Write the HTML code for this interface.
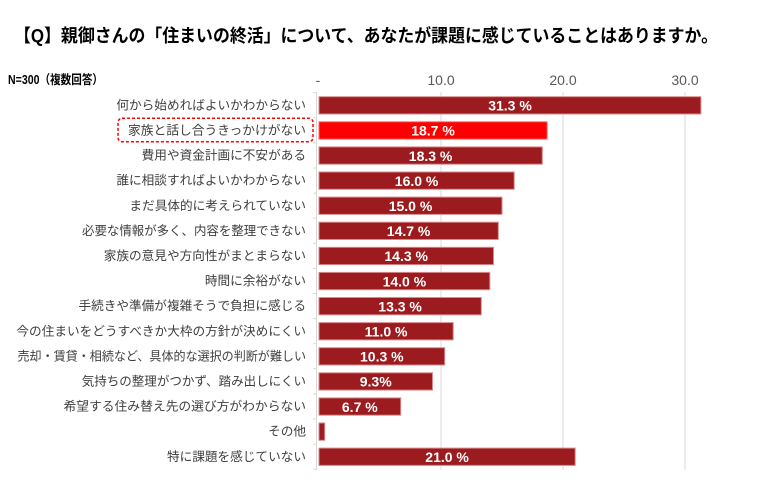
<!DOCTYPE html>
<html><head><meta charset="utf-8"><style>
html,body{margin:0;padding:0;background:#fff;}
svg{display:block;}
text{font-family:"Liberation Sans","Noto Sans CJK JP",sans-serif;}
.cat{font-size:12.65px;fill:#3f3f3f;}
.val{font-size:14px;fill:#fff;font-weight:bold;}
.ax{font-size:14px;fill:#595959;}
</style></head><body>
<svg width="771" height="488" viewBox="0 0 771 488" xmlns="http://www.w3.org/2000/svg">
<rect width="771" height="488" fill="#fff"/>
<text x="14" y="42" font-size="18" font-weight="bold" fill="#000" textLength="704" lengthAdjust="spacingAndGlyphs">【Q】親御さんの「住まいの終活」について、あなたが課題に感じていることはありますか。</text>
<text x="8" y="84" font-size="12.5" font-weight="bold" fill="#000" textLength="95" lengthAdjust="spacingAndGlyphs">N=300（複数回答）</text>
<g class="ax" text-anchor="middle">
<text x="318" y="85">-</text>
<text x="441" y="85">10.0</text>
<text x="563" y="85">20.0</text>
<text x="685" y="85">30.0</text>
</g>
<g stroke="#d9d9d9" stroke-width="1">
<line x1="441" y1="92" x2="441" y2="470"/>
<line x1="563" y1="92" x2="563" y2="470"/>
<line x1="685" y1="92" x2="685" y2="470"/>
<line x1="316.5" y1="92" x2="316.5" y2="470"/>
<line x1="313" y1="92.7" x2="317" y2="92.7"/>
<line x1="313" y1="117.8" x2="317" y2="117.8"/>
<line x1="313" y1="142.9" x2="317" y2="142.9"/>
<line x1="313" y1="168" x2="317" y2="168"/>
<line x1="313" y1="193.1" x2="317" y2="193.1"/>
<line x1="313" y1="218.2" x2="317" y2="218.2"/>
<line x1="313" y1="243.3" x2="317" y2="243.3"/>
<line x1="313" y1="268.4" x2="317" y2="268.4"/>
<line x1="313" y1="293.5" x2="317" y2="293.5"/>
<line x1="313" y1="318.6" x2="317" y2="318.6"/>
<line x1="313" y1="343.7" x2="317" y2="343.7"/>
<line x1="313" y1="368.8" x2="317" y2="368.8"/>
<line x1="313" y1="393.9" x2="317" y2="393.9"/>
<line x1="313" y1="419" x2="317" y2="419"/>
<line x1="313" y1="444.1" x2="317" y2="444.1"/>
<line x1="313" y1="469.2" x2="317" y2="469.2"/>
</g>
<g stroke="#d98a8c" stroke-width="1" fill="#9b1b1e">
<rect x="319" y="96.7" width="381.9" height="17.3"/>
<rect x="319" y="121.8" width="228.1" height="17.3" fill="#ff0000" stroke="#ff6666"/>
<rect x="319" y="146.9" width="223.3" height="17.3"/>
<rect x="319" y="172" width="195.2" height="17.3"/>
<rect x="319" y="197.1" width="183" height="17.3"/>
<rect x="319" y="222.2" width="179.3" height="17.3"/>
<rect x="319" y="247.3" width="174.5" height="17.3"/>
<rect x="319" y="272.4" width="170.8" height="17.3"/>
<rect x="319" y="297.5" width="162.3" height="17.3"/>
<rect x="319" y="322.6" width="134.2" height="17.3"/>
<rect x="319" y="347.7" width="125.7" height="17.3"/>
<rect x="319" y="372.8" width="113.5" height="17.3"/>
<rect x="319" y="397.9" width="81.7" height="17.3"/>
<rect x="319" y="423" width="5.7" height="17.3"/>
<rect x="319" y="448.1" width="256.2" height="17.3"/>
</g>
<g class="val" text-anchor="middle" dominant-baseline="central">
<text x="510" y="105.6">31.3 %</text>
<text x="433" y="130.7">18.7 %</text>
<text x="430.6" y="155.8">18.3 %</text>
<text x="416.6" y="180.9">16.0 %</text>
<text x="410.5" y="206">15.0 %</text>
<text x="408.6" y="231.1">14.7 %</text>
<text x="406.2" y="256.2">14.3 %</text>
<text x="404.4" y="281.3">14.0 %</text>
<text x="400.1" y="306.4">13.3 %</text>
<text x="386.1" y="331.5">11.0 %</text>
<text x="381.8" y="356.6">10.3 %</text>
<text x="375.7" y="381.7">9.3%</text>
<text x="359.8" y="406.8">6.7 %</text>
<text x="447.1" y="457">21.0 %</text>
</g>
<rect x="118" y="118.3" width="195" height="23.4" rx="4" ry="4" fill="none" stroke="#ff0000" stroke-width="1.5" stroke-dasharray="3,2"/>
<g class="cat" text-anchor="end" dominant-baseline="central">
<text x="306" y="105.4">何から始めればよいかわからない</text>
<text x="306" y="130.5" textLength="178" lengthAdjust="spacingAndGlyphs">家族と話し合うきっかけがない</text>
<text x="306" y="155.6">費用や資金計画に不安がある</text>
<text x="306" y="180.7">誰に相談すればよいかわからない</text>
<text x="306" y="205.8">まだ具体的に考えられていない</text>
<text x="306" y="230.9" textLength="224" lengthAdjust="spacingAndGlyphs">必要な情報が多く、内容を整理できない</text>
<text x="306" y="256">家族の意見や方向性がまとまらない</text>
<text x="306" y="281.1">時間に余裕がない</text>
<text x="306" y="306.2">手続きや準備が複雑そうで負担に感じる</text>
<text x="306" y="331.3">今の住まいをどうすべきか大枠の方針が決めにくい</text>
<text x="306" y="356.4" textLength="288.5" lengthAdjust="spacingAndGlyphs">売却・賃貸・相続など、具体的な選択の判断が難しい</text>
<text x="306" y="381.5" textLength="224.3" lengthAdjust="spacingAndGlyphs">気持ちの整理がつかず、踏み出しにくい</text>
<text x="306" y="406.6" textLength="242.5" lengthAdjust="spacingAndGlyphs">希望する住み替え先の選び方がわからない</text>
<text x="306" y="431.7">その他</text>
<text x="306" y="456.8">特に課題を感じていない</text>
</g>
</svg>
</body></html>
